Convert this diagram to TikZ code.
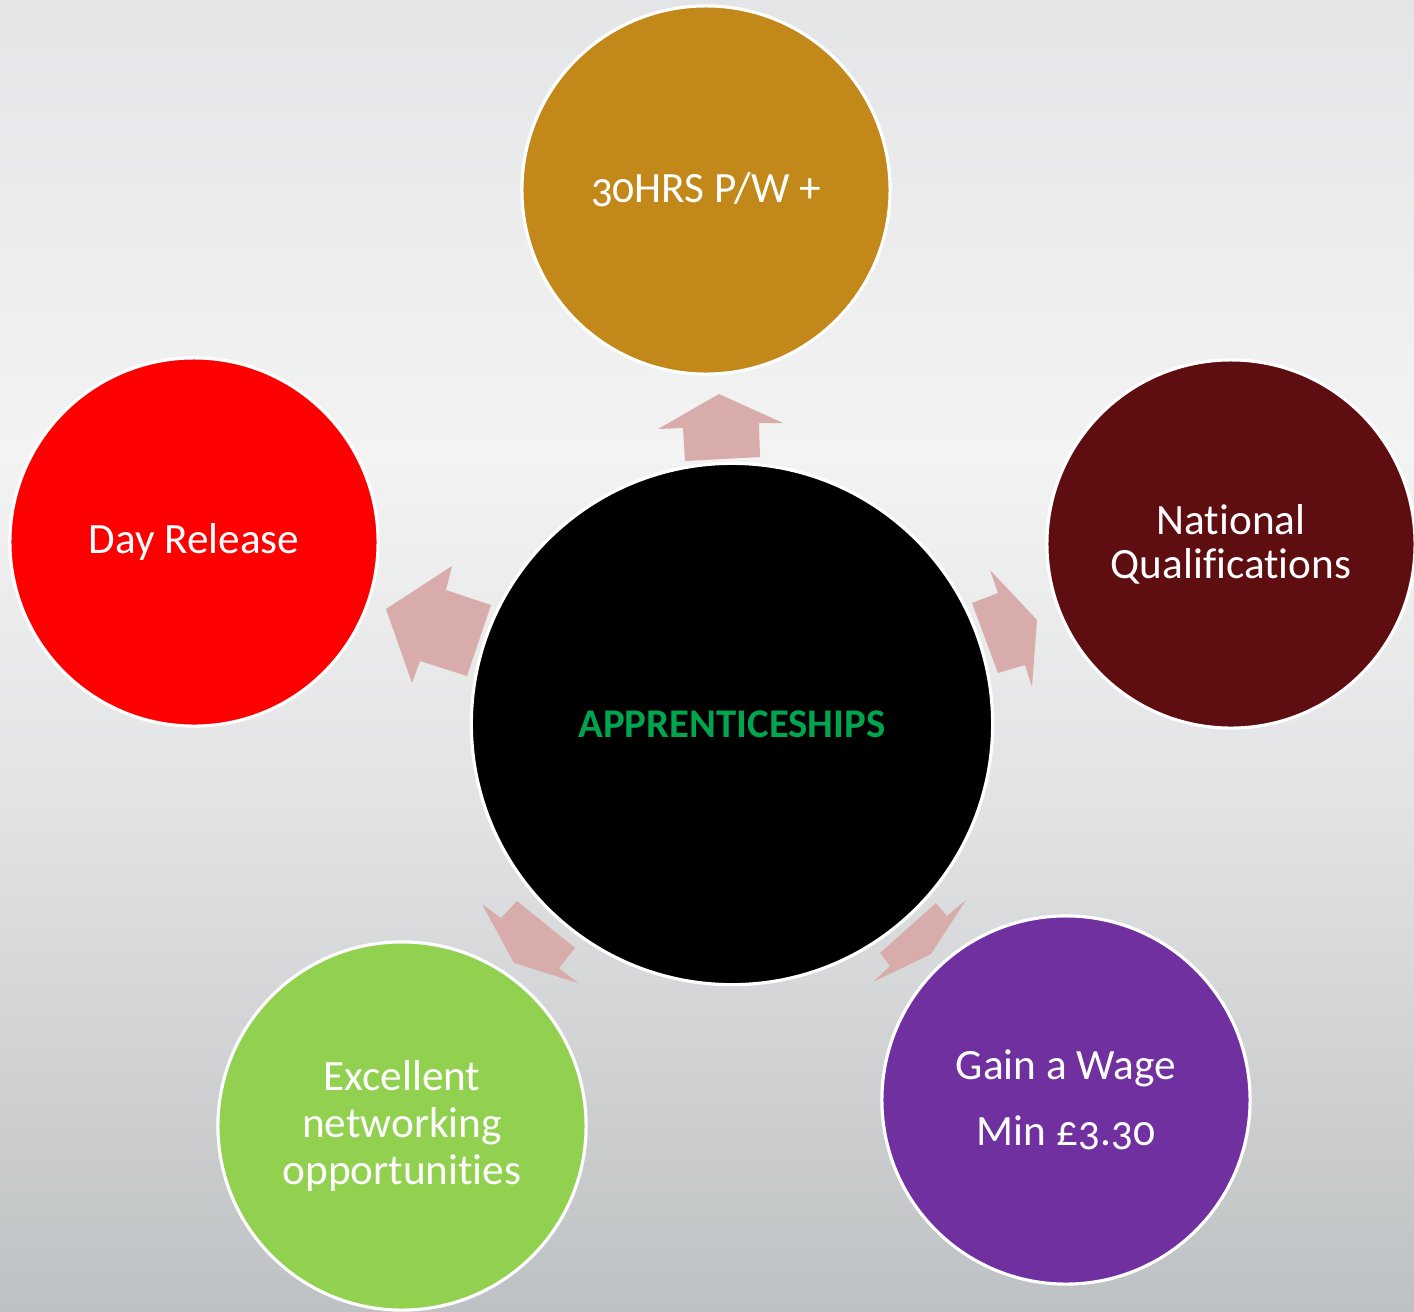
\documentclass[tikz,border=0pt]{standalone}
\usepackage{fontspec}
\setmainfont{Carlito}[Numbers=OldStyle,Ligatures=NoCommon]
\definecolor{bgtop}{HTML}{E4E5E6}
\definecolor{bglight}{HTML}{F3F3F3}
\definecolor{bgmid}{HTML}{E2E3E4}
\definecolor{bgbot}{HTML}{BEC1C3}
\definecolor{hoursgold}{HTML}{C2881A}
\definecolor{qualmaroon}{HTML}{5E0E10}
\definecolor{wagepurple}{HTML}{7030A0}
\definecolor{netgreen}{HTML}{92D050}
\definecolor{releasered}{HTML}{FF0000}
\definecolor{appgreen}{HTML}{00A64F}
\definecolor{arrowpink}{HTML}{D9ACAC}
\pgfdeclareverticalshading{backdrop}{100bp}{color(0bp)=(bgbot); color(25bp)=(bgbot);
  color(44.5bp)=(bgmid); color(57.8bp)=(bglight); color(75bp)=(bgtop); color(100bp)=(bgtop)}
\tikzstyle{every node}=[font=\fontsize{12.3}{13.2}\selectfont,text=white,align=center]
\tikzstyle{bubble}=[circle,draw=white,line width=0.9pt,minimum size=3.68cm,inner sep=0pt]
\tikzstyle{hub}=[bubble,fill=black,minimum size=5.21cm]
\tikzstyle{pointer}=[fill=arrowpink]

\begin{document}
\begin{tikzpicture}[x=0.01cm,y=-0.01cm]
  \useasboundingbox (0,0) rectangle (1414,1311);
  \shade[shading=backdrop] (0,0) rectangle (1414,1311);
  \fill[pointer] (719,394) -- (783,423) -- (759,423) -- (760,457) -- (685,461) -- (683,428) -- (658,429) -- cycle;
  \fill[pointer] (386,609) -- (452,566) -- (446,590) -- (491,605) -- (467,676) -- (420,661) -- (412,683) -- cycle;
  \fill[pointer] (1037,620) -- (990,570) -- (998,593) -- (972,603) -- (998,673) -- (1025,665) -- (1032,687) -- cycle;
  \fill[pointer] (514,963) -- (482,904) -- (501,918) -- (517,901) -- (575,948) -- (559,968) -- (578,983) -- cycle;
  \fill[pointer] (931,954) -- (966,900) -- (947,916) -- (936,903) -- (880,953) -- (890,966) -- (873,982) -- cycle;
  \node[hub] (apprentice) at (732,724) {\fontsize{11.6}{13}\selectfont\bfseries\color{appgreen}APPRENTICESHIPS};
  \node[bubble,fill=hoursgold] (hours) at (706,190) {30HRS P/W +};
  \node[bubble,fill=qualmaroon,font=\fontsize{12.3}{12.5}\selectfont] (quals) at (1231,544) {National\\Qualifications};
  \node[bubble,fill=wagepurple] (wage) at (1066,1100) {Gain a Wage\\[0.19cm]Min £3.30};
  \node[bubble,fill=netgreen,font=\fontsize{12.3}{13.4}\selectfont] (network) at (402,1126) {Excellent\\networking\\opportunities};
  \node[bubble,fill=releasered] (release) at (194,542) {Day Release};
\end{tikzpicture}
\end{document}
